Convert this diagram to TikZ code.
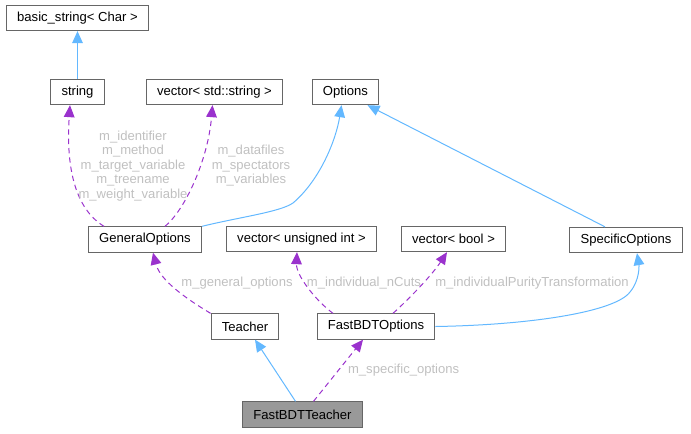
\documentclass[tikz,border=0pt]{standalone}
\usepackage{fontspec}
\setmainfont{Liberation Sans}
\usepackage{tikz}
\usetikzlibrary{arrows.meta}
\usetikzlibrary{calc}
\definecolor{boxgray}{HTML}{666666}
\definecolor{mainfill}{HTML}{999999}
\definecolor{inheritblue}{HTML}{63B8FF}
\definecolor{usespurple}{HTML}{9A32CD}
\definecolor{labelgray}{HTML}{C0C0C0}
\tikzset{
classbox/.style={draw=boxgray, fill=white, line width=0.75pt, minimum height=19pt, inner xsep=8pt, inner ysep=0pt, font=\fontsize{9.8}{12}\selectfont},
mainbox/.style={classbox, fill=mainfill},
inherits/.style={draw=inheritblue, line width=0.75pt, -{Triangle[length=9pt,width=8pt]}},
uses/.style={draw=usespurple, line width=0.75pt, dash pattern=on 4pt off 3pt, -{Triangle[length=9pt,width=8pt]}},
memberlabel/.style={text=labelgray, align=center, inner sep=0pt, font=\fontsize{9.8}{10.9}\selectfont}}

\begin{document}
\begin{tikzpicture}[x=0.75pt, y=-0.75pt]
    \useasboundingbox (0,0) rectangle (691,433);

                \node[classbox] (BS) at (77.5,18) {basic\_string< Char >};
                \node[classbox] (S) at (77.5,92) {string};
                \node[classbox] (VS) at (214.5,92) {vector< std::string >};
                \node[classbox] (O) at (345.5,92) {Options};
                \node[classbox] (GO) at (145,239.5) {GeneralOptions};
                \node[classbox] (VU) at (301.5,239) {vector< unsigned int >};
                \node[classbox] (VB) at (453.5,239) {vector< bool >};
                \node[classbox] (SO) at (626,240) {SpecificOptions};
                \node[classbox] (T) at (245,326.5) {Teacher};
                \node[classbox] (FO) at (376,326.5) {FastBDTOptions};
                \node[mainbox] (FT) at (302.5,414.5) {FastBDTTeacher};

                \draw[inherits] (S.north) -- (BS.south);
                \draw[uses] ($(GO.north)+(-41,0)$) .. controls (74,208) and (66,165) .. ($(S.south)+(-7.5,0)$)
                    node[memberlabel] at (133,166) {m\_identifier\\m\_method\\m\_target\_variable\\m\_treename\\m\_weight\_variable};
                \draw[uses] ($(GO.north)+(20,0)$) .. controls (185,210) and (208,160) .. ($(VS.south)+(-2,0)$)
                    node[memberlabel] at (251,166) {m\_datafiles\\m\_spectators\\m\_variables};
                \draw[inherits] (GO.north east) .. controls (240,217) and (280,212) .. (293,203)
                    .. controls (320,180) and (336,140) .. ($(O.south)+(-4,0)$);
                \draw[inherits] ($(SO.north)+(-21,0)$) -- ($(O.south)+(22,0)$);
                \draw[uses] (T.north west) .. controls (185,298) and (160,280) .. ($(GO.south)+(8,0)$)
                    node[memberlabel] at (237,283) {m\_general\_options};
                \draw[uses] ($(FO.north)+(-43,0)$) .. controls (315,300) and (296,275) .. ($(VU.south)+(-4.5,0)$)
                    node[memberlabel] at (364,283) {m\_individual\_nCuts};
                \draw[uses] ($(FO.north)+(17,0)$) .. controls (410,298) and (432,275) .. ($(VB.south)+(-6.5,0)$)
                    node[memberlabel] at (532,283) {m\_individualPurityTransformation};
                \draw[inherits] (FO.east) .. controls (530,325) and (615,312) .. (630,292)
                    .. controls (640,280) and (639,265) .. ($(SO.south)+(11,0)$);
                \draw[inherits] ($(FT.north)+(-7,0)$) -- ($(T.south)+(10,0)$);
                \draw[uses] ($(FT.north)+(11,0)$) -- ($(FO.south)+(-13,0)$)
                    node[memberlabel, midway, anchor=west, xshift=7pt] {m\_specific\_options};

            \end{tikzpicture}
\end{document}
